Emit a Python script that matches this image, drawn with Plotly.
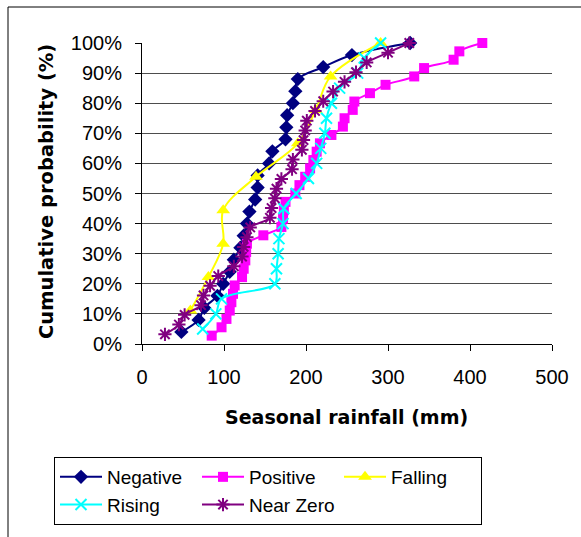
import plotly.graph_objects as go

# ---- data ----
neg_x = [48, 69, 76, 92, 99, 107, 112, 120, 124, 128, 131, 138, 141, 141, 155, 159,
         175, 176, 177, 184, 187, 190, 221, 256, 327]
pos_x = [85, 97, 103, 107, 109, 111, 113, 122, 124, 126, 127, 128, 148, 170, 172, 173,
         175, 187, 192, 199, 205, 209, 213, 217, 231, 245, 247, 257, 259, 278, 297,
         332, 344, 380, 387, 415]
fall_x = [59, 81, 99, 99, 139, 190, 212, 230, 291]
rise_x = [74, 90, 97, 162, 164, 166, 167, 172, 173, 188, 203, 213, 218, 223, 225,
          231, 241, 263, 271, 291]
near_x = [28, 45, 52, 72, 75, 83, 93, 112, 122, 124, 128, 132, 156, 158, 162, 164,
          170, 183, 184, 195, 197, 199, 201, 211, 221, 233, 247, 261, 274, 300, 326]

series_names = ["Negative", "Positive", "Falling", "Rising", "Near Zero"]
series_x = [neg_x, pos_x, fall_x, rise_x, near_x]
series_colors = ["#000080", "#FF00FF", "#FFFF00", "#00FFFF", "#800080"]
series_symbols = ["diamond", "square", "triangle-up", "x-thin", "asterisk"]
series_sizes = [11, 10, 12, 11, 11]

x_ticks = [0, 100, 200, 300, 400, 500]
y_ticks = [0, 0.1, 0.2, 0.3, 0.4, 0.5, 0.6, 0.7, 0.8, 0.9, 1.0]
y_ticklabels = ["0%", "10%", "20%", "30%", "40%", "50%", "60%", "70%", "80%", "90%", "100%"]


def cum_prob(xs):
    n = len(xs)
    return [(i + 1) / n for i in range(n)]


fig = go.Figure()
for name, xs, col, sym, sz in zip(series_names, series_x, series_colors,
                                  series_symbols, series_sizes):
    thin = sym in ("x-thin", "asterisk")
    marker = dict(symbol=sym, size=sz, color=col)
    if thin:
        marker["line"] = dict(color=col, width=2)
    fig.add_trace(go.Scatter(
        x=xs, y=cum_prob(xs), name=name, mode="lines+markers",
        line=dict(color=col, width=2, shape="spline"),
        marker=marker, cliponaxis=False,
    ))

W, H = 581, 537
L, R, T, B = 142, 29, 43, 193
pw, ph = W - L - R, H - T - B


def px_to_paper_x(px):
    return (px - L) / pw


def px_to_paper_y(py):
    return (H - B - py) / ph


fig.update_layout(
    width=W, height=H,
    margin=dict(l=L, r=R, t=T, b=B, pad=0),
    paper_bgcolor="white", plot_bgcolor="white",
    font=dict(family="Liberation Sans, Arial, sans-serif", size=19, color="black"),
    showlegend=True,
    legend=dict(
        orientation="h", x=px_to_paper_x(54), y=px_to_paper_y(457),
        xanchor="left", yanchor="top",
        bordercolor="black", borderwidth=1, bgcolor="white",
        font=dict(size=19), itemwidth=42, entrywidth=85, entrywidthmode="pixels",
        traceorder="normal",
    ),
    xaxis=dict(
        range=[0, 500], tickvals=x_ticks, showgrid=False, zeroline=False,
        showline=True, linecolor="black", linewidth=1,
        ticks="outside", ticklen=6, tickcolor="black",
        ticklabelstandoff=9, tickfont=dict(size=20),
    ),
    yaxis=dict(
        range=[0, 1], tickvals=y_ticks, ticktext=y_ticklabels,
        showgrid=True, gridcolor="#4d4d4d", gridwidth=1, zeroline=False,
        showline=True, linecolor="black", linewidth=1,
        ticks="outside", ticklen=6, tickcolor="black",
        ticklabelstandoff=9, tickfont=dict(size=20),
    ),
    annotations=[
        dict(text="<b>Seasonal rainfall (mm)</b>", xref="paper", yref="paper",
             x=px_to_paper_x(346), y=px_to_paper_y(417), xanchor="center", yanchor="middle",
             showarrow=False, font=dict(family="DejaVu Sans", size=19, color="black")),
        dict(text="<b>Cumulative probability (%)</b>", xref="paper", yref="paper",
             x=px_to_paper_x(46), y=px_to_paper_y(192), xanchor="center", yanchor="middle",
             textangle=-90, showarrow=False,
             font=dict(family="DejaVu Sans", size=19.5, color="black")),
    ],
    shapes=[
        dict(type="rect", xref="paper", yref="paper",
             x0=px_to_paper_x(8), y0=px_to_paper_y(620),
             x1=px_to_paper_x(640), y1=px_to_paper_y(7),
             line=dict(color="black", width=1), fillcolor="rgba(0,0,0,0)", layer="below"),
    ],
)

fig.write_html("out.html")
